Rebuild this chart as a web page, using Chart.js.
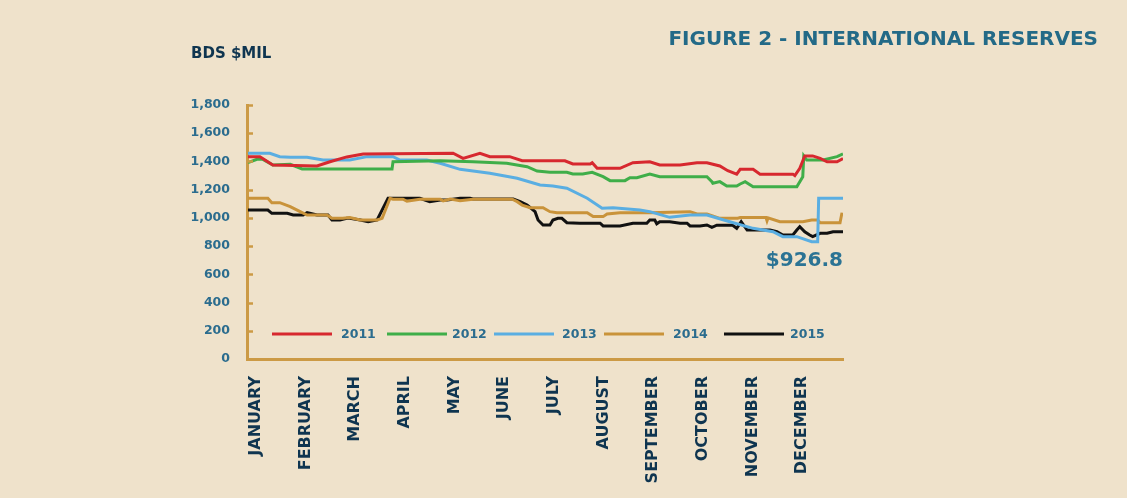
<!DOCTYPE html>
<html>
<head>
<meta charset="utf-8">
<title>International Reserves</title>
<script src="https://cdn.jsdelivr.net/npm/chart.js@4.4.0/dist/chart.umd.min.js"></script>
<style>
  body { margin: 0; background: #efe2cb; }
  .wrap { position: relative; width: 1127px; height: 498px; background: #efe2cb; overflow: hidden; }
  #chart { position: absolute; left: 0; top: 0; }
  .txt { position: absolute; font-family: "DejaVu Sans", sans-serif; font-weight: bold; line-height: 1; white-space: nowrap; }
  .title { right: 29px; top: 28px; font-size: 20px; color: #236a87; }
  .unit { left: 191px; top: 46px; font-size: 15px; color: #0f3550; }
  .note { right: 284px; top: 249px; font-size: 20px; color: #2b7394; }
</style>
</head>
<body>
<div class="wrap">
  <canvas id="chart" width="1127" height="498"></canvas>
  <div class="txt title">FIGURE 2 - INTERNATIONAL RESERVES</div>
  <div class="txt unit">BDS $MIL</div>
  <div class="txt note">$926.8</div>
</div>
<script>
const months = ["JANUARY", "FEBRUARY", "MARCH", "APRIL", "MAY", "JUNE", "JULY",
  "AUGUST", "SEPTEMBER", "OCTOBER", "NOVEMBER", "DECEMBER"];
const yTicks = [0, 200, 400, 600, 800, 1000, 1200, 1400, 1600, 1800];
const years = ["2011", "2012", "2013", "2014", "2015"];

// x = position in the year, in months (0 = start of January, 12 = end of December)
const t2011 = [0.02, 0.26, 0.52, 1.41, 1.67, 2.01, 2.34, 4.15, 4.35, 4.69, 4.89, 5.29, 5.54, 6.40, 6.56, 6.91, 6.95, 7.05, 7.51, 7.77, 8.11, 8.31, 8.72, 9.06, 9.26, 9.52, 9.68, 9.86, 9.93, 10.19, 10.33, 10.99, 11.03, 11.13, 11.23, 11.39, 11.54, 11.68, 11.88, 12.0];
const v2011 = [1434, 1434, 1375, 1368, 1398, 1432, 1453, 1458, 1422, 1458, 1434, 1434, 1405, 1405, 1382, 1382, 1391, 1351, 1351, 1391, 1398, 1375, 1375, 1391, 1391, 1368, 1334, 1310, 1344, 1344, 1310, 1310, 1300, 1351, 1439, 1439, 1422, 1398, 1398, 1420];

const t2012 = [0.02, 0.20, 0.32, 0.52, 0.87, 1.11, 2.92, 2.94, 3.89, 4.55, 5.23, 5.64, 5.84, 6.10, 6.44, 6.56, 6.76, 6.95, 7.17, 7.31, 7.61, 7.71, 7.85, 8.11, 8.31, 9.26, 9.36, 9.38, 9.52, 9.66, 9.86, 9.93, 10.03, 10.19, 11.07, 11.19, 11.21, 11.27, 11.60, 11.88, 12.0];
const v2012 = [1391, 1415, 1415, 1375, 1380, 1347, 1347, 1398, 1405, 1398, 1387, 1363, 1332, 1323, 1323, 1311, 1311, 1323, 1292, 1264, 1264, 1285, 1285, 1311, 1292, 1292, 1257, 1245, 1257, 1226, 1226, 1240, 1257, 1221, 1221, 1292, 1439, 1410, 1410, 1434, 1453];

const t2013 = [0.02, 0.46, 0.66, 0.87, 1.21, 1.53, 2.07, 2.42, 2.94, 3.08, 3.62, 3.89, 4.29, 4.89, 5.44, 5.90, 6.16, 6.44, 6.85, 7.15, 7.37, 7.91, 8.11, 8.46, 8.51, 8.92, 9.26, 9.72, 10.19, 10.59, 10.79, 11.07, 11.37, 11.49, 11.51, 12.0];
const v2013 = [1458, 1458, 1434, 1429, 1429, 1410, 1410, 1434, 1434, 1410, 1410, 1387, 1344, 1316, 1281, 1233, 1226, 1210, 1139, 1068, 1072, 1056, 1044, 1009, 1004, 1020, 1020, 973, 926, 902, 867, 867, 831, 831, 1139, 1139];

const t2014 = [0.02, 0.42, 0.50, 0.66, 0.87, 1.07, 1.21, 1.61, 1.71, 1.93, 2.07, 2.28, 2.62, 2.72, 2.88, 2.94, 3.14, 3.22, 3.48, 3.89, 3.95, 4.09, 4.29, 4.55, 5.34, 5.44, 5.54, 5.70, 5.96, 6.10, 6.24, 6.85, 6.97, 7.17, 7.25, 7.51, 8.11, 8.92, 9.06, 9.26, 9.52, 9.88, 9.93, 10.45, 10.47, 10.49, 10.73, 11.19, 11.37, 11.49, 11.54, 11.94, 11.98];
const v2014 = [1139, 1139, 1108, 1108, 1080, 1044, 1020, 1020, 997, 997, 1002, 985, 985, 997, 1139, 1132, 1132, 1118, 1132, 1132, 1120, 1134, 1122, 1132, 1132, 1115, 1091, 1072, 1072, 1044, 1037, 1037, 1009, 1009, 1028, 1037, 1037, 1044, 1028, 1028, 997, 997, 1002, 1002, 980, 1000, 973, 973, 985, 985, 966, 966, 1037];

const t2015 = [0.02, 0.42, 0.50, 0.81, 0.93, 1.13, 1.21, 1.41, 1.63, 1.71, 1.87, 2.01, 2.07, 2.28, 2.44, 2.62, 2.84, 2.94, 3.48, 3.68, 3.89, 4.03, 4.29, 4.49, 4.55, 5.36, 5.50, 5.64, 5.80, 5.86, 5.96, 6.10, 6.16, 6.26, 6.34, 6.44, 6.70, 7.11, 7.17, 7.51, 7.77, 8.05, 8.11, 8.21, 8.25, 8.31, 8.51, 8.72, 8.86, 8.92, 9.12, 9.26, 9.36, 9.46, 9.78, 9.86, 9.95, 10.07, 10.53, 10.67, 10.79, 10.99, 11.07, 11.13, 11.23, 11.33, 11.39, 11.54, 11.68, 11.80, 12.0];
const v2015 = [1056, 1056, 1032, 1032, 1020, 1020, 1037, 1020, 1020, 985, 985, 997, 997, 985, 973, 985, 1139, 1139, 1139, 1115, 1127, 1127, 1139, 1139, 1134, 1134, 1115, 1091, 1044, 985, 950, 950, 985, 997, 997, 966, 962, 962, 943, 943, 962, 962, 985, 985, 958, 973, 973, 962, 962, 943, 943, 950, 933, 948, 948, 926, 973, 914, 914, 902, 879, 879, 914, 937, 902, 879, 867, 891, 891, 902, 902];

const lineColors = ["#d7282f", "#3fae49", "#5aaee2", "#c9933a", "#111111"];
const axisColor = "#cc9a45";

function toPoints(xs, ys) {
  return xs.map((x, i) => ({ x: x, y: ys[i] }));
}

// small tick stubs on the inside of the y axis
const yStubs = {
  id: "yStubs",
  afterDraw(chart) {
    const ctx = chart.ctx;
    const y = chart.scales.y;
    const left = chart.chartArea.left;
    ctx.save();
    ctx.strokeStyle = axisColor;
    ctx.lineWidth = 2.5;
    yTicks.forEach(v => {
      if (v === 0) return;
      const py = Math.round(y.getPixelForValue(v)) + 0.5;
      ctx.beginPath();
      ctx.moveTo(left, py);
      ctx.lineTo(left + 6, py);
      ctx.stroke();
    });
    ctx.restore();
  }
};

// legend drawn inside the plot, near the bottom
const innerLegend = {
  id: "innerLegend",
  afterDraw(chart) {
    const ctx = chart.ctx;
    const lineX = [272, 387, 494, 604, 724];
    const textX = [341, 452, 562, 673, 790];
    const cy = 334;
    ctx.save();
    ctx.font = "bold 12.5px 'DejaVu Sans'";
    ctx.textBaseline = "middle";
    chart.data.datasets.forEach((ds, i) => {
      ctx.strokeStyle = ds.borderColor;
      ctx.lineWidth = 3;
      ctx.beginPath();
      ctx.moveTo(lineX[i], cy);
      ctx.lineTo(lineX[i] + 60, cy);
      ctx.stroke();
      ctx.fillStyle = "#2b6c8e";
      ctx.fillText(ds.label, textX[i], cy + 1);
    });
    ctx.restore();
  }
};

const seriesX = [t2011, t2012, t2013, t2014, t2015];
const seriesY = [v2011, v2012, v2013, v2014, v2015];

new Chart(document.getElementById("chart"), {
  type: "line",
  data: {
    datasets: years.map((year, i) => ({
      label: year,
      data: toPoints(seriesX[i], seriesY[i]),
      borderColor: lineColors[i],
      borderWidth: 3,
      pointRadius: 0,
      tension: 0,
      fill: false
    }))
  },
  options: {
    responsive: false,
    animation: false,
    devicePixelRatio: 1,
    layout: { padding: { top: 105, right: 284, bottom: 0, left: 0 } },
    plugins: {
      legend: { display: false },
      tooltip: { enabled: false }
    },
    scales: {
      x: {
        type: "linear",
        min: 0,
        max: 12,
        afterBuildTicks: scale => {
          scale.ticks = months.map((m, i) => ({ value: i + 0.18 }));
        },
        afterFit: scale => { scale.height = 139; },
        grid: { drawOnChartArea: false, drawTicks: false },
        border: { display: true, color: axisColor, width: 3 },
        ticks: {
          autoSkip: false,
          maxRotation: 90,
          minRotation: 90,
          padding: 17,
          color: "#0f3550",
          font: { family: "DejaVu Sans", size: 16, weight: "bold" },
          callback: (value, index) => months[index]
        }
      },
      y: {
        min: 0,
        max: 1800,
        afterBuildTicks: scale => {
          scale.ticks = yTicks.map(v => ({ value: v }));
        },
        afterFit: scale => { scale.width = 247; },
        grid: { drawOnChartArea: false, drawTicks: false },
        border: { display: true, color: axisColor, width: 3 },
        ticks: {
          padding: 17,
          color: "#2b6c8e",
          font: { family: "DejaVu Sans", size: 12.5, weight: "bold" },
          callback: value => value.toLocaleString("en-US")
        }
      }
    }
  },
  plugins: [yStubs, innerLegend]
});
</script>
</body>
</html>
